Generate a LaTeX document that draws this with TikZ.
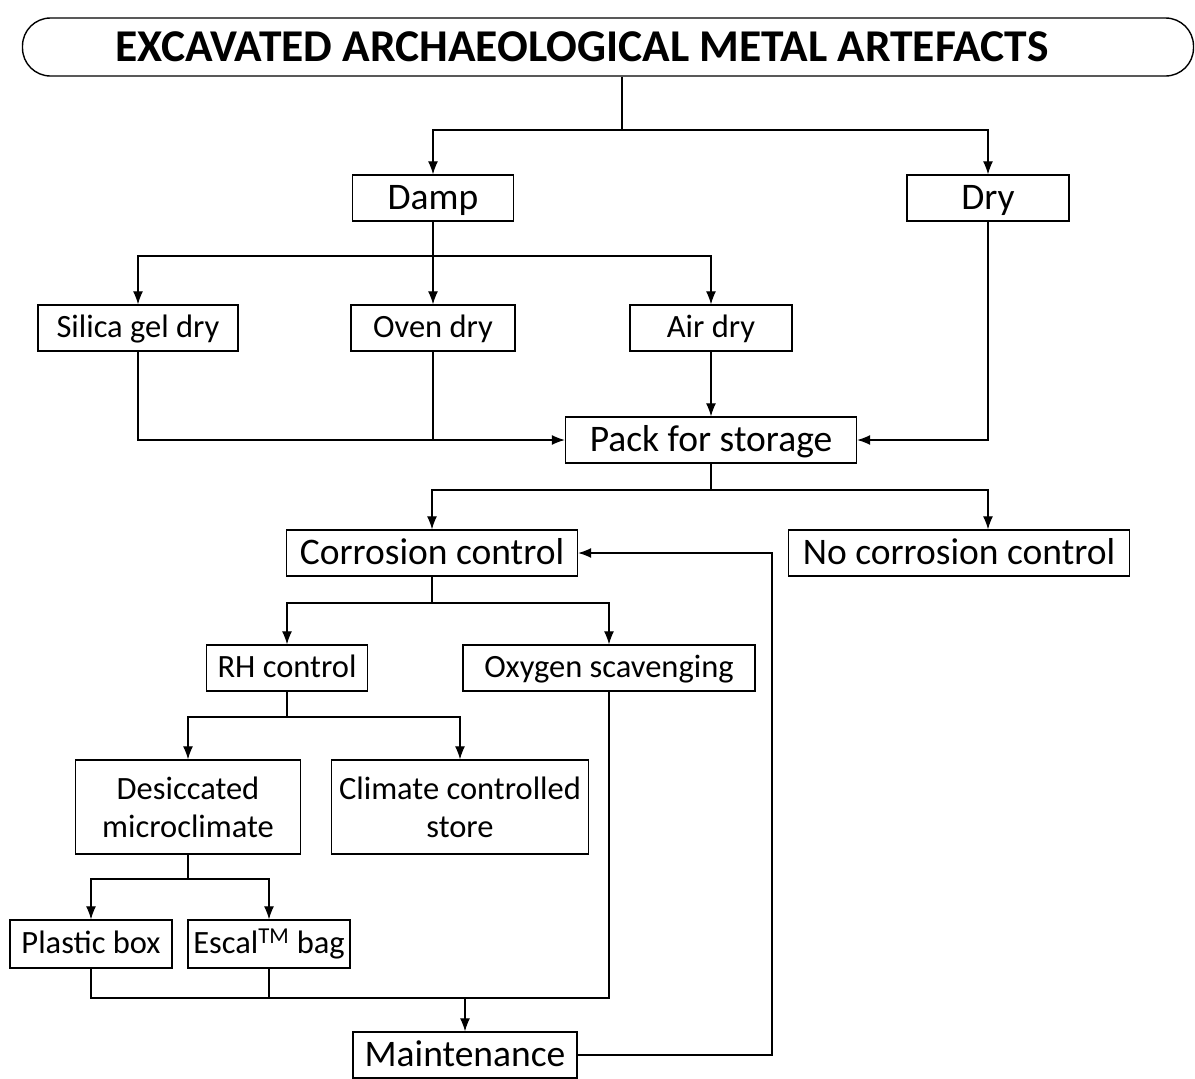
\documentclass[tikz,border=0pt]{standalone}
\usepackage{fontspec}
\setmainfont{Carlito}
\usetikzlibrary{arrows.meta}

\tikzset{
  box/.style={draw, line width=1.4pt, inner sep=0pt, align=center},
  bigbox/.style={box, font=\fontsize{37.5}{40}\selectfont, minimum height=46pt,
    text height=30pt, text depth=7pt},
  smallbox/.style={box, font=\fontsize{32.5}{38}\selectfont, minimum height=46pt,
    text height=24.5pt, text depth=6.5pt},
  tallbox/.style={box, font=\fontsize{32.5}{38}\selectfont, minimum height=94pt},
  link/.style={line width=1.1pt},
  arr/.style={link, -{Latex[length=13pt,width=10pt]}}
}

\begin{document}
\begin{tikzpicture}[x=1pt,y=-1pt]
\useasboundingbox (0,0) rectangle (1195,1079);
% title
\node[box, rounded corners=28pt, minimum width=1171pt, minimum height=58pt,
  font=\bfseries\fontsize{45.5}{50}\selectfont] at (608,47) (title)
  {EXCAVATED ARCHAEOLOGICAL METAL ARTEFACTS\hspace*{52pt}};
% boxes
\node[bigbox, minimum width=161pt] at (433,198) (damp) {Damp};
\node[bigbox, minimum width=162pt] at (988,198) (dry) {Dry};
\node[smallbox, minimum width=200pt] at (138,328) (silica) {Silica gel dry};
\node[smallbox, minimum width=164pt] at (433,328) (oven) {Oven dry};
\node[smallbox, minimum width=162pt] at (711,328) (air) {Air dry};
\node[bigbox, minimum width=291pt] at (711,440) (pack) {Pack for storage};
\node[bigbox, minimum width=291pt] at (432,553) (corr) {Corrosion control};
\node[bigbox, minimum width=341pt] at (959,553) (nocorr) {No corrosion control};
\node[smallbox, minimum width=161pt] at (287,668) (rh) {RH control};
\node[smallbox, minimum width=292pt] at (609,668) (oxy) {Oxygen scavenging};
\node[tallbox, minimum width=225pt] at (188,807) (desic) {Desiccated\\microclimate};
\node[tallbox, minimum width=257pt] at (460,807) (climate) {Climate controlled\\store};
\node[smallbox, minimum width=162pt, minimum height=48pt] at (91,944) (plastic) {Plastic box};
\node[smallbox, minimum width=162pt, minimum height=48pt] at (269,944) (escal) {Escal\textsuperscript{TM} bag};
\node[bigbox, minimum width=224pt] at (465,1055) (maint) {Maintenance};
% junctions
\coordinate (j1) at (622,130);
\coordinate (j2) at (433,256);
\coordinate (j3) at (711,490);
\coordinate (j3r) at (988,490);
\coordinate (j4) at (432,603);
\coordinate (j5) at (287,717);
\coordinate (j6) at (188,879);
\coordinate (j7) at (465,998);
\coordinate (j8) at (772,553);
% connectors
\draw[link] (title.south -| j1) -- (j1);
\draw[arr] (j1) -| (damp);
\draw[arr] (j1) -| (dry);
\draw[link] (damp) -- (j2);
\draw[arr] (j2) -| (silica);
\draw[arr] (j2) -- (oven);
\draw[arr] (j2) -| (air);
\draw[arr] (silica) |- (pack);
\draw[link] (oven) -- (oven |- pack);
\draw[arr] (air) -- (pack);
\draw[arr] (dry) |- (pack);
\draw[link] (pack) -- (j3);
\draw[arr] (j3) -| (corr);
\draw[arr] (j3) -- (j3r) -- (j3r |- nocorr.north);
\draw[link] (corr) -- (j4);
\draw[arr] (j4) -| (rh);
\draw[arr] (j4) -| (oxy);
\draw[link] (rh) -- (j5);
\draw[arr] (j5) -| (desic);
\draw[arr] (j5) -| (climate);
\draw[link] (desic) -- (j6);
\draw[arr] (j6) -| (plastic);
\draw[arr] (j6) -| (escal);
\draw[link] (plastic) |- (j7);
\draw[link] (escal) |- (j7);
\draw[link] (oxy) |- (j7);
\draw[arr] (j7) -- (maint);
\draw[arr] (maint) -| (j8) -- (corr);
\end{tikzpicture}
\end{document}
